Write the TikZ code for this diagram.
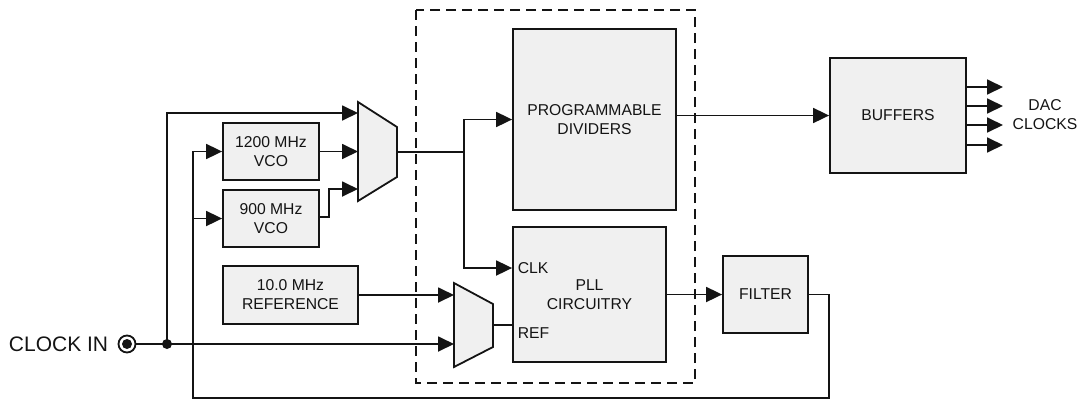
\documentclass[tikz,border=0pt]{standalone}
\usepackage{fontspec}
\setmainfont{Liberation Sans}
\usetikzlibrary{arrows.meta}
\definecolor{boxgray}{HTML}{F0F0F0}
\definecolor{inkc}{HTML}{141414}
\begin{document}
\begin{tikzpicture}[x=1pt,y=-1pt,
  line width=1.8pt, draw=inkc, text=inkc,
  blk/.style={draw=inkc, fill=boxgray, inner sep=0pt, align=center,
    font=\fontsize{15.7}{19}\selectfont},
  lbl/.style={inner sep=0pt, align=center, font=\fontsize{15.7}{19}\selectfont},
  sig/.style={-{Triangle[length=16pt,width=15pt]}},
  muxshape/.style={draw=inkc, fill=boxgray, line join=miter},
  dashbox/.style={draw=inkc, dash pattern=on 10pt off 6pt}]
\useasboundingbox (0,0) rectangle (1083,400);

% dashed enclosure
\draw[dashbox] (416,10) rectangle (695,383);

% blocks
\node[blk, minimum width=163pt, minimum height=181pt] (div) at (594.5,119.5) {PROGRAMMABLE\\DIVIDERS};
\node[blk, minimum width=153pt, minimum height=135pt] (pll) at (589.5,294.5) {PLL\\CIRCUITRY};
\node[blk, minimum width=136pt, minimum height=115pt] (buf) at (898,115.5) {BUFFERS};
\node[blk, minimum width=85pt, minimum height=77pt] (filt) at (765.5,294.5) {FILTER};
\node[blk, minimum width=96pt, minimum height=57pt] (vcoa) at (271,151.5) {1200 MHz\\VCO};
\node[blk, minimum width=96pt, minimum height=57pt] (vcob) at (271,218.5) {900 MHz\\VCO};
\node[blk, minimum width=135pt, minimum height=58pt] (refosc) at (290.5,295) {10.0 MHz\\REFERENCE};

% multiplexers
\draw[muxshape] (358,102) -- (397,127) -- (397,177) -- (358,201) -- cycle;
\draw[muxshape] (454,283) -- (493,304) -- (493,347) -- (454,367) -- cycle;
\coordinate (mAi) at (358,113);
\coordinate (mAii) at (358,151.5);
\coordinate (mAiii) at (358,189);
\coordinate (mAo) at (397,152);
\coordinate (mBi) at (454,295);
\coordinate (mBii) at (454,344);
\coordinate (mBo) at (493,325);

% labels inside PLL
\node[lbl, anchor=west] (clkl) at (517,268) {CLK};
\node[lbl, anchor=west] (refl) at (517,333) {REF};

% clock input
\node[draw=inkc, circle, line width=1.8pt, minimum size=17pt, inner sep=0pt] (jack) at (127,344) {};
\fill[inkc] (jack.center) circle (5pt);
\node[inner sep=0pt, anchor=east, font=\fontsize{21}{25}\selectfont] (clkin) at (109,344) {CLOCK IN};
\coordinate (jn) at (167,344);
\fill[inkc] (jn) circle (5pt);

% connections
\draw (jack.east) -- (jn);
\draw[sig] (jn) -- (mBii);
\draw[sig] (jn) |- (mAi);
\draw[sig] (vcoa.east) -- (mAii);
\coordinate (vbk) at (329,217);
\draw[sig] (vcob.east |- vbk) -- (vbk) |- (mAiii);
\draw[sig] (refosc.east |- mBi) -- (mBi);

\coordinate (split) at (464,152);
\draw (mAo) -- (split);
\draw[sig] (split) |- (div.west);
\draw[sig] (split) |- (pll.west |- clkl);
\draw (mBo) -- (pll.west |- mBo);

\draw[sig] (div.east |- buf.west) -- (buf.west);
\draw[sig] (pll.east) -- (filt.west);

% feedback loop
\coordinate (fbr) at (829,398);
\coordinate (fbl) at (193,398);
\coordinate (vtap) at (193,218.5);
\draw (filt.east) -| (fbr) -- (fbl) -- (vtap);
\draw[sig] (vtap) |- (vcoa.west);
\draw[sig] (vtap) -- (vcob.west);

% outputs
\foreach \yy/\nm in {87/oa,106/ob,125/oc,145/od}{
  \coordinate (\nm) at (1003,\yy);
  \draw[sig] (buf.east |- \nm) -- (\nm);
}
\node[lbl] (dac) at (1045,115) {DAC\\CLOCKS};
\end{tikzpicture}
\end{document}
